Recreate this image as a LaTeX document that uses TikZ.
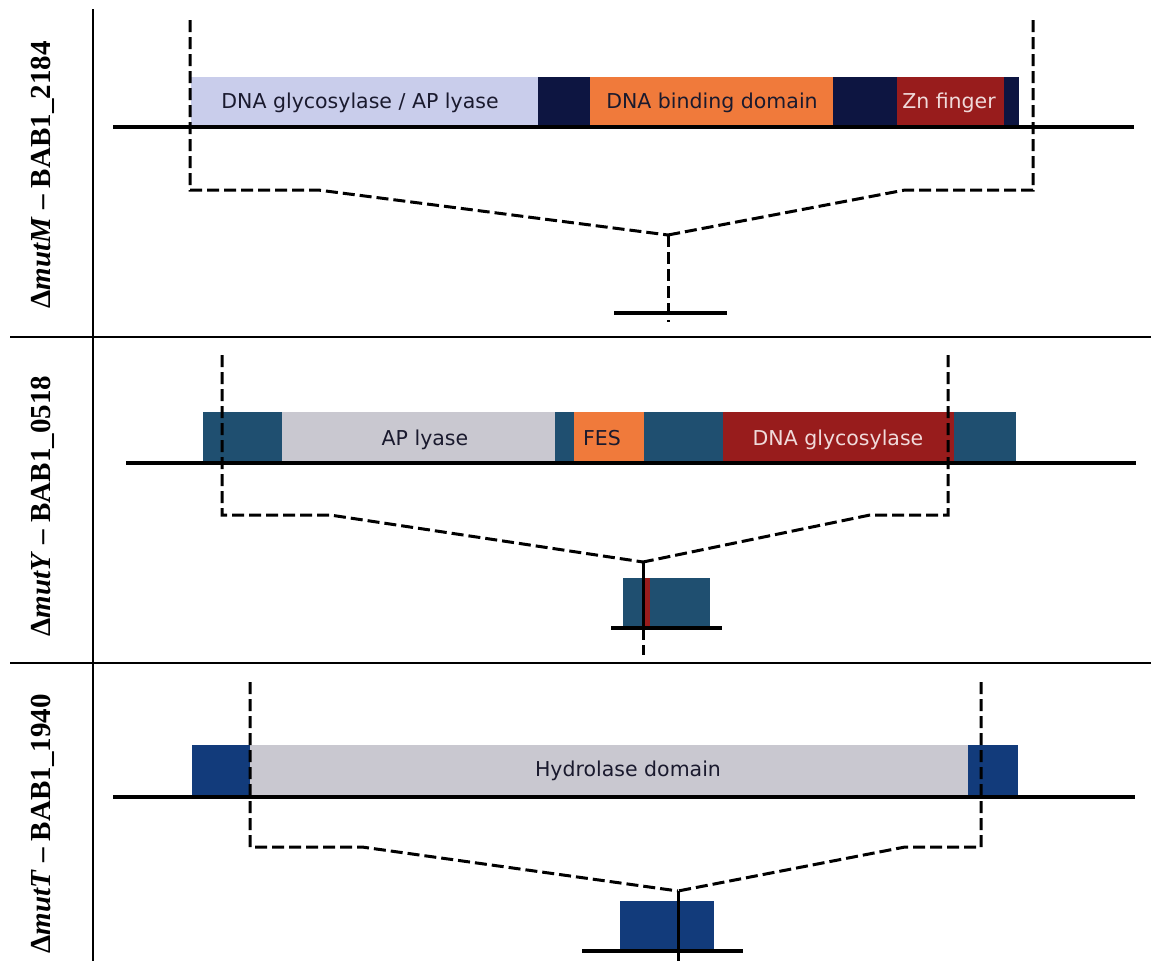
\documentclass[tikz,border=0pt]{standalone}
\usepackage{fontspec}
\setmainfont{Liberation Serif}
\newfontfamily\domfont{DejaVu Sans}
\definecolor{lav}{HTML}{C9CDEB}
\definecolor{navyA}{HTML}{0D1541}
\definecolor{orng}{HTML}{F07A3B}
\definecolor{dred}{HTML}{981C1C}
\definecolor{tealB}{HTML}{1F4F70}
\definecolor{gryA}{HTML}{C9C8D0}
\definecolor{navyB}{HTML}{123B7B}
\definecolor{txtdark}{HTML}{1A1A2E}
\definecolor{txtlight}{HTML}{F0DADA}
\begin{document}
\begin{tikzpicture}[x=1pt,y=-1pt,
  divider/.style={line width=1.5pt, black},
  baseline/.style={line width=3.4pt, black},
  cutline/.style={line width=3pt, black, dash pattern=on 12pt off 5pt, line join=miter},
  solidcut/.style={line width=3pt, black},
  domlabel/.style={font=\domfont\fontsize{20.5}{22}\selectfont, inner sep=0pt, anchor=base},
  genelabel/.style={rotate=90, font=\bfseries\fontsize{29}{31}\selectfont, inner sep=0pt}]
\useasboundingbox (0,0) rectangle (1151,961);
\fill[white] (0,0) rectangle (1151,961);

% dividers
\draw[divider] (93,9) -- (93,961);
\draw[divider] (10,337) -- (1151,337);
\draw[divider] (10,663) -- (1151,663);

% labels
\node[genelabel] (lab1) at (43,175) {Δ\textit{mutM} – BAB1\_2184};
\node[genelabel] (lab2) at (43,506) {Δ\textit{mutY} – BAB1\_0518};
\node[genelabel] (lab3) at (43,824) {Δ\textit{mutT} – BAB1\_1940};

% ---------- panel 1 ----------
\fill[lav]   (191,77) rectangle (538,126);
\fill[navyA] (538,77) rectangle (590,126);
\fill[orng]  (590,77) rectangle (833,126);
\fill[navyA] (833,77) rectangle (897,126);
\fill[dred]  (897,77) rectangle (1004,126);
\fill[navyA] (1004,77) rectangle (1019,126);
\node[domlabel, text=txtdark] (d1a) at (360,108) {DNA glycosylase / AP lyase};
\node[domlabel, text=txtdark] (d1b) at (712,108) {DNA binding domain};
\node[domlabel, text=txtlight] (d1c) at (949,108) {Zn finger};
\coordinate (b1l) at (113,127); \coordinate (b1r) at (1134,127);
\draw[baseline] (b1l) -- (b1r);
\coordinate (c1a) at (190,20);  \coordinate (c1b) at (190,190); \coordinate (c1c) at (318,190);
\coordinate (c1d) at (1033,20); \coordinate (c1e) at (1033,190); \coordinate (c1f) at (905,190);
\coordinate (v1) at (668,235); \coordinate (v1e) at (668,322);
\draw[cutline] (c1a) -- (c1b) -- (c1c) -- (v1);
\draw[cutline] (c1d) -- (c1e) -- (c1f) -- (v1);
\draw[cutline] (v1) -- (v1e);
\coordinate (s1l) at (614,313); \coordinate (s1r) at (727,313);
\draw[baseline] (s1l) -- (s1r);

% ---------- panel 2 ----------
\fill[tealB] (203,412) rectangle (282,462);
\fill[gryA]  (282,412) rectangle (555,462);
\fill[tealB] (555,412) rectangle (574,462);
\fill[orng]  (574,412) rectangle (644,462);
\fill[tealB] (644,412) rectangle (723,462);
\fill[dred]  (723,412) rectangle (954,462);
\fill[tealB] (954,412) rectangle (1016,462);
\node[domlabel, text=txtdark] (d2a) at (425,445) {AP lyase};
\node[domlabel, text=txtdark] (d2b) at (602,445) {FES};
\node[domlabel, text=txtlight] (d2c) at (838,445) {DNA glycosylase};
\coordinate (b2l) at (126,463); \coordinate (b2r) at (1136,463);
\draw[baseline] (b2l) -- (b2r);
\coordinate (c2a) at (222,355); \coordinate (c2b) at (222,515); \coordinate (c2c) at (330,515);
\coordinate (c2d) at (948,355); \coordinate (c2e) at (948,515); \coordinate (c2f) at (870,515);
\coordinate (v2) at (643,562); \coordinate (v2m) at (643,628); \coordinate (v2e) at (643,655);
\draw[cutline] (c2a) -- (c2b) -- (c2c) -- (v2);
\draw[cutline] (c2d) -- (c2e) -- (c2f) -- (v2);
\fill[tealB] (623,578) rectangle (710,628);
\fill[dred]  (644,578) rectangle (650,628);
\draw[solidcut] (v2) -- (v2m);
\draw[cutline] (v2m) -- (v2e);
\coordinate (s2l) at (611,628); \coordinate (s2r) at (722,628);
\draw[baseline] (s2l) -- (s2r);

% ---------- panel 3 ----------
\fill[navyB] (192,745) rectangle (250,795);
\fill[gryA]  (250,745) rectangle (968,795);
\fill[navyB] (968,745) rectangle (1018,795);
\node[domlabel, text=txtdark] (d3a) at (628,776) {Hydrolase domain};
\coordinate (b3l) at (113,797); \coordinate (b3r) at (1135,797);
\draw[baseline] (b3l) -- (b3r);
\coordinate (c3a) at (250,682); \coordinate (c3b) at (250,847); \coordinate (c3c) at (362,847);
\coordinate (c3d) at (981,682); \coordinate (c3e) at (981,847); \coordinate (c3f) at (905,847);
\coordinate (v3) at (678,891); \coordinate (v3e) at (678,961);
\draw[cutline] (c3a) -- (c3b) -- (c3c) -- (v3);
\draw[cutline] (c3d) -- (c3e) -- (c3f) -- (v3);
\fill[navyB] (620,901) rectangle (714,951);
\draw[solidcut] (v3) -- (v3e);
\coordinate (s3l) at (582,951); \coordinate (s3r) at (743,951);
\draw[baseline] (s3l) -- (s3r);
\end{tikzpicture}
\end{document}
